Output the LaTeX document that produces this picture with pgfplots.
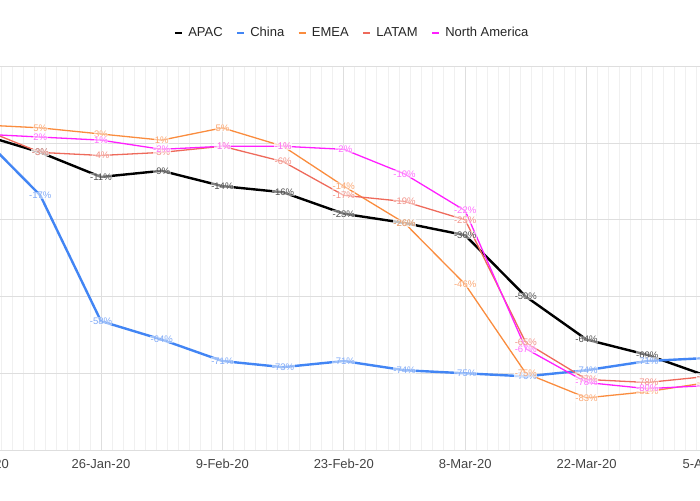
\documentclass[border=0pt]{standalone}
\usepackage{fontspec}
\setmainfont{Liberation Sans}
\usepackage{pgfplots}
\pgfplotsset{compat=1.18}
\definecolor{apac}{HTML}{000000}
\definecolor{china}{HTML}{4285F4}
\definecolor{emea}{HTML}{FA8C3E}
\definecolor{latam}{HTML}{EE6A5B}
\definecolor{namer}{HTML}{FF1FFF}
\definecolor{apacl}{HTML}{505050}
\definecolor{chinal}{HTML}{80AAF7}
\definecolor{emeal}{HTML}{FBA874}
\definecolor{latatml}{HTML}{F29389}
\definecolor{namerl}{HTML}{FF70FF}
\definecolor{tick}{HTML}{444444}
\pgfplotsset{
  lbl/.style={
    nodes near coords={\pgfmathprintnumber[assume math mode=true]{\pgfplotspointmeta}\%},
    every node near coord/.append style={anchor=center, font=\fontsize{9.5}{11}\selectfont,
      text=#1, fill=white, fill opacity=0.5, text opacity=1, inner sep=0.4pt}
  }
}
\begin{document}
\begin{tikzpicture}
\useasboundingbox (0pt,0pt) rectangle (700pt,500pt);
\clip (0pt,0pt) rectangle (700pt,500pt);
\begin{axis}[
  at={(-63.76pt,50pt)}, anchor=south west,
  scale only axis, width=823.7pt, height=383.5pt,
  xmin=-5, xmax=90, ymin=-100, ymax=25,
  axis line style={draw=none},
  xtick={0,14,...,84},
  xticklabels={12-Jan-20,26-Jan-20,9-Feb-20,23-Feb-20,8-Mar-20,22-Mar-20,5-Apr-20},
  minor x tick num=10,
  ytick={-100,-75,-50,-25,25},
  yticklabels={},
  extra y ticks={0},
  extra y tick labels={},
  extra y tick style={grid style={draw=black!22, line width=2pt}},
  major tick length=0pt, minor tick length=0pt,
  xmajorgrids, xminorgrids, ymajorgrids,
  major grid style={draw=black!13, line width=0.8pt},
  minor grid style={draw=black!6, line width=0.8pt},
  xticklabel style={font=\fontsize{13}{15}\selectfont, text=tick, yshift=-6pt},
  legend style={at={(0.5048,1.0873)}, anchor=center, draw=none, fill=none,
    font=\fontsize{13}{15}\selectfont, text=black!85,
    /tikz/every odd column/.append style={column sep=3pt},
    /tikz/every even column/.append style={column sep=11pt}},
  legend columns=-1,
  legend image code/.code={\draw[#1, line width=2.6pt] (0pt,0pt) -- (7pt,0pt);},
]
\addplot[apac, line width=2.4pt, mark=none, lbl=apacl] coordinates {
(0,3) (7,-3) (14,-11) (21,-9) (28,-14) (35,-16) (42,-23) (49,-26) (56,-30) (63,-50) (70,-64) (77,-69) (84,-76)};
\addlegendentry{APAC}
\addplot[china, line width=2.4pt, mark=none, lbl=chinal] coordinates {
(0,3) (7,-17) (14,-58) (21,-64) (28,-71) (35,-73) (42,-71) (49,-74) (56,-75) (63,-76) (70,-74) (77,-71) (84,-70)};
\addlegendentry{China}
\addplot[emea, line width=1.3pt, mark=none, lbl=emeal] coordinates {
(0,6) (7,5) (14,3) (21,1) (28,5) (35,-1) (42,-14) (49,-26) (56,-46) (63,-75) (70,-83) (77,-81) (84,-78)};
\addlegendentry{EMEA}
\addplot[latam, line width=1.3pt, mark=none, lbl=latatml] coordinates {
(0,5) (7,-3) (14,-4) (21,-3) (28,-1) (35,-6) (42,-17) (49,-19) (56,-25) (63,-65) (70,-77) (77,-78) (84,-76)};
\addlegendentry{LATAM}
\addplot[namer, line width=1.3pt, mark=none, lbl=namerl] coordinates {
(0,3) (7,2) (14,1) (21,-2) (28,-1) (35,-1) (42,-2) (49,-10) (56,-22) (63,-67) (70,-78) (77,-80) (84,-79)};
\addlegendentry{North America}
\end{axis}
\end{tikzpicture}
\end{document}
